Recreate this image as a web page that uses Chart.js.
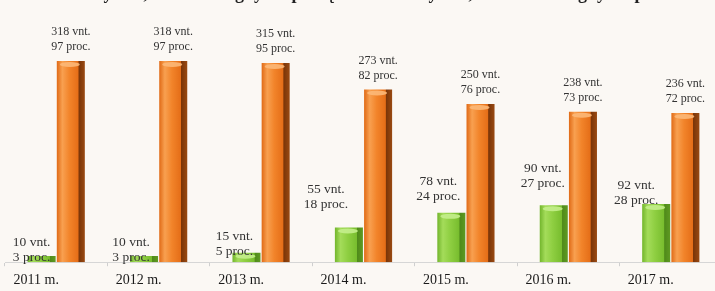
<!DOCTYPE html>
<html><head><meta charset="utf-8">
<script src="https://cdn.jsdelivr.net/npm/chart.js@4/dist/chart.umd.min.js"></script>
<style>
html,body{margin:0;padding:0;background:#fbf8f4;overflow:hidden;width:715px;height:291px}
#wrap{position:relative;width:715px;height:291px;overflow:hidden}
#inner{position:absolute;left:0;top:-55px;width:740px;height:350px}
</style></head><body>
<div id="wrap"><div id="inner"><canvas id="c" width="740" height="350"></canvas></div></div>
<script>
const categories = ['2011 m.', '2012 m.', '2013 m.', '2014 m.', '2015 m.', '2016 m.', '2017 m.'];
const seriesNames = ['Mokyklos, turinčios ugdymo planą', 'Mokyklos, neturinčios ugdymo plano'];
const greenValues = [10, 10, 15, 55, 78, 90, 92];
const greenPercent = [3, 3, 5, 18, 24, 27, 28];
const orangeValues = [318, 318, 315, 273, 250, 238, 236];
const orangePercent = [97, 97, 95, 82, 76, 73, 72];

const CAT_PCT = 0.57, BAR_PCT = 0.96;

function barFill(ctx, stops, base) {
  if (ctx.type !== 'data') return base;
  const chart = ctx.chart, xs = chart.scales.x;
  if (!xs || !chart.chartArea) return base;
  const cw = xs.width / categories.length;
  const slot = cw * CAT_PCT / 2, w = slot * BAR_PCT;
  const xc = xs.getPixelForValue(ctx.dataIndex) + (ctx.datasetIndex === 0 ? -slot / 2 : slot / 2);
  const g = chart.ctx.createLinearGradient(xc - w / 2, 0, xc + w / 2, 0);
  stops.forEach(s => g.addColorStop(s[0], s[1]));
  return g;
}
const greenStops = [[0, '#72b52c'], [0.2, '#a4dc5a'], [0.45, '#8fcf42'], [0.78, '#78bd2e'], [0.8, '#4f8a1a'], [1, '#5f9a22']];
const orangeStops = [[0, '#e06a16'], [0.2, '#f8a050'], [0.45, '#f2842a'], [0.76, '#e56e18'], [0.79, '#7a3508'], [1, '#9a4a12']];

const capPlugin = {
  id: 'caps',
  afterDatasetsDraw(chart) {
    const c = chart.ctx;
    c.save();
    [['rgba(196,238,140,0.9)', 0], ['rgba(252,184,120,0.9)', 1]].forEach(([col, di]) => {
      chart.getDatasetMeta(di).data.forEach(el => {
        const h = el.base - el.y;
        if (h < 8) return;
        c.fillStyle = col;
        c.beginPath();
        c.ellipse(el.x - 1, el.y + 3.5, el.width / 2 - 4, 2.5, 0, 0, Math.PI * 2);
        c.fill();
      });
    });
    c.restore();
  }
};

const labelPlugin = {
  id: 'vlabels',
  afterDatasetsDraw(chart, args, opts) {
    const c = chart.ctx;
    c.save();
    c.fillStyle = '#333';
    c.textAlign = 'center';
    c.textBaseline = 'middle';
    chart.getDatasetMeta(1).data.forEach((el, i) => {
      c.font = '12px "Liberation Serif"';
      c.fillText(orangeValues[i] + ' vnt.', el.x, el.y - 29);
      c.fillText(orangePercent[i] + ' proc.', el.x, el.y - 14);
    });
    chart.getDatasetMeta(0).data.forEach((el, i) => {
      const n = opts.greenNudge[i];
      c.font = '13.5px "Liberation Serif"';
      c.fillText(greenValues[i] + ' vnt.', el.x + n[0], el.y + n[1] - 15);
      c.fillText(greenPercent[i] + ' proc.', el.x + n[0], el.y + n[1]);
    });
    c.restore();
  }
};

new Chart(document.getElementById('c'), {
  type: 'bar',
  data: {
    labels: categories,
    datasets: [
      { label: seriesNames[0], data: greenValues,
        backgroundColor: ctx => barFill(ctx, greenStops, '#8fcf42'),
        categoryPercentage: CAT_PCT, barPercentage: BAR_PCT, borderWidth: 0 },
      { label: seriesNames[1], data: orangeValues,
        backgroundColor: ctx => barFill(ctx, orangeStops, '#f2842a'),
        categoryPercentage: CAT_PCT, barPercentage: BAR_PCT, borderWidth: 0 }
    ]
  },
  options: {
    responsive: false,
    animation: false,
    layout: { padding: { left: 5, right: 18, top: 0, bottom: 0 } },
    plugins: {
      legend: {
        display: true,
        position: 'top',
        labels: {
          boxWidth: 9, boxHeight: 9, padding: 40,
          color: '#222',
          font: { family: '"Liberation Serif"', size: 18, weight: 'bold' }
        }
      },
      tooltip: { enabled: false },
      vlabels: { greenNudge: [[-10, 2], [-13, 2], [-12, -1], [-23, -23], [-13, -16], [-11, -22], [-20, -4]] }
    },
    scales: {
      x: {
        grid: { display: true, drawOnChartArea: false, drawTicks: true, tickLength: 4, color: '#cfcfcf' },
        border: { display: true, color: '#d6d6d6' },
        ticks: { color: '#1a1a1a', padding: 6, labelOffset: -20,
          font: { family: '"Liberation Serif"', size: 14 } }
      },
      y: {
        display: false,
        min: 0, max: 394
      }
    }
  },
  plugins: [capPlugin, labelPlugin]
});
</script>
</body></html>
